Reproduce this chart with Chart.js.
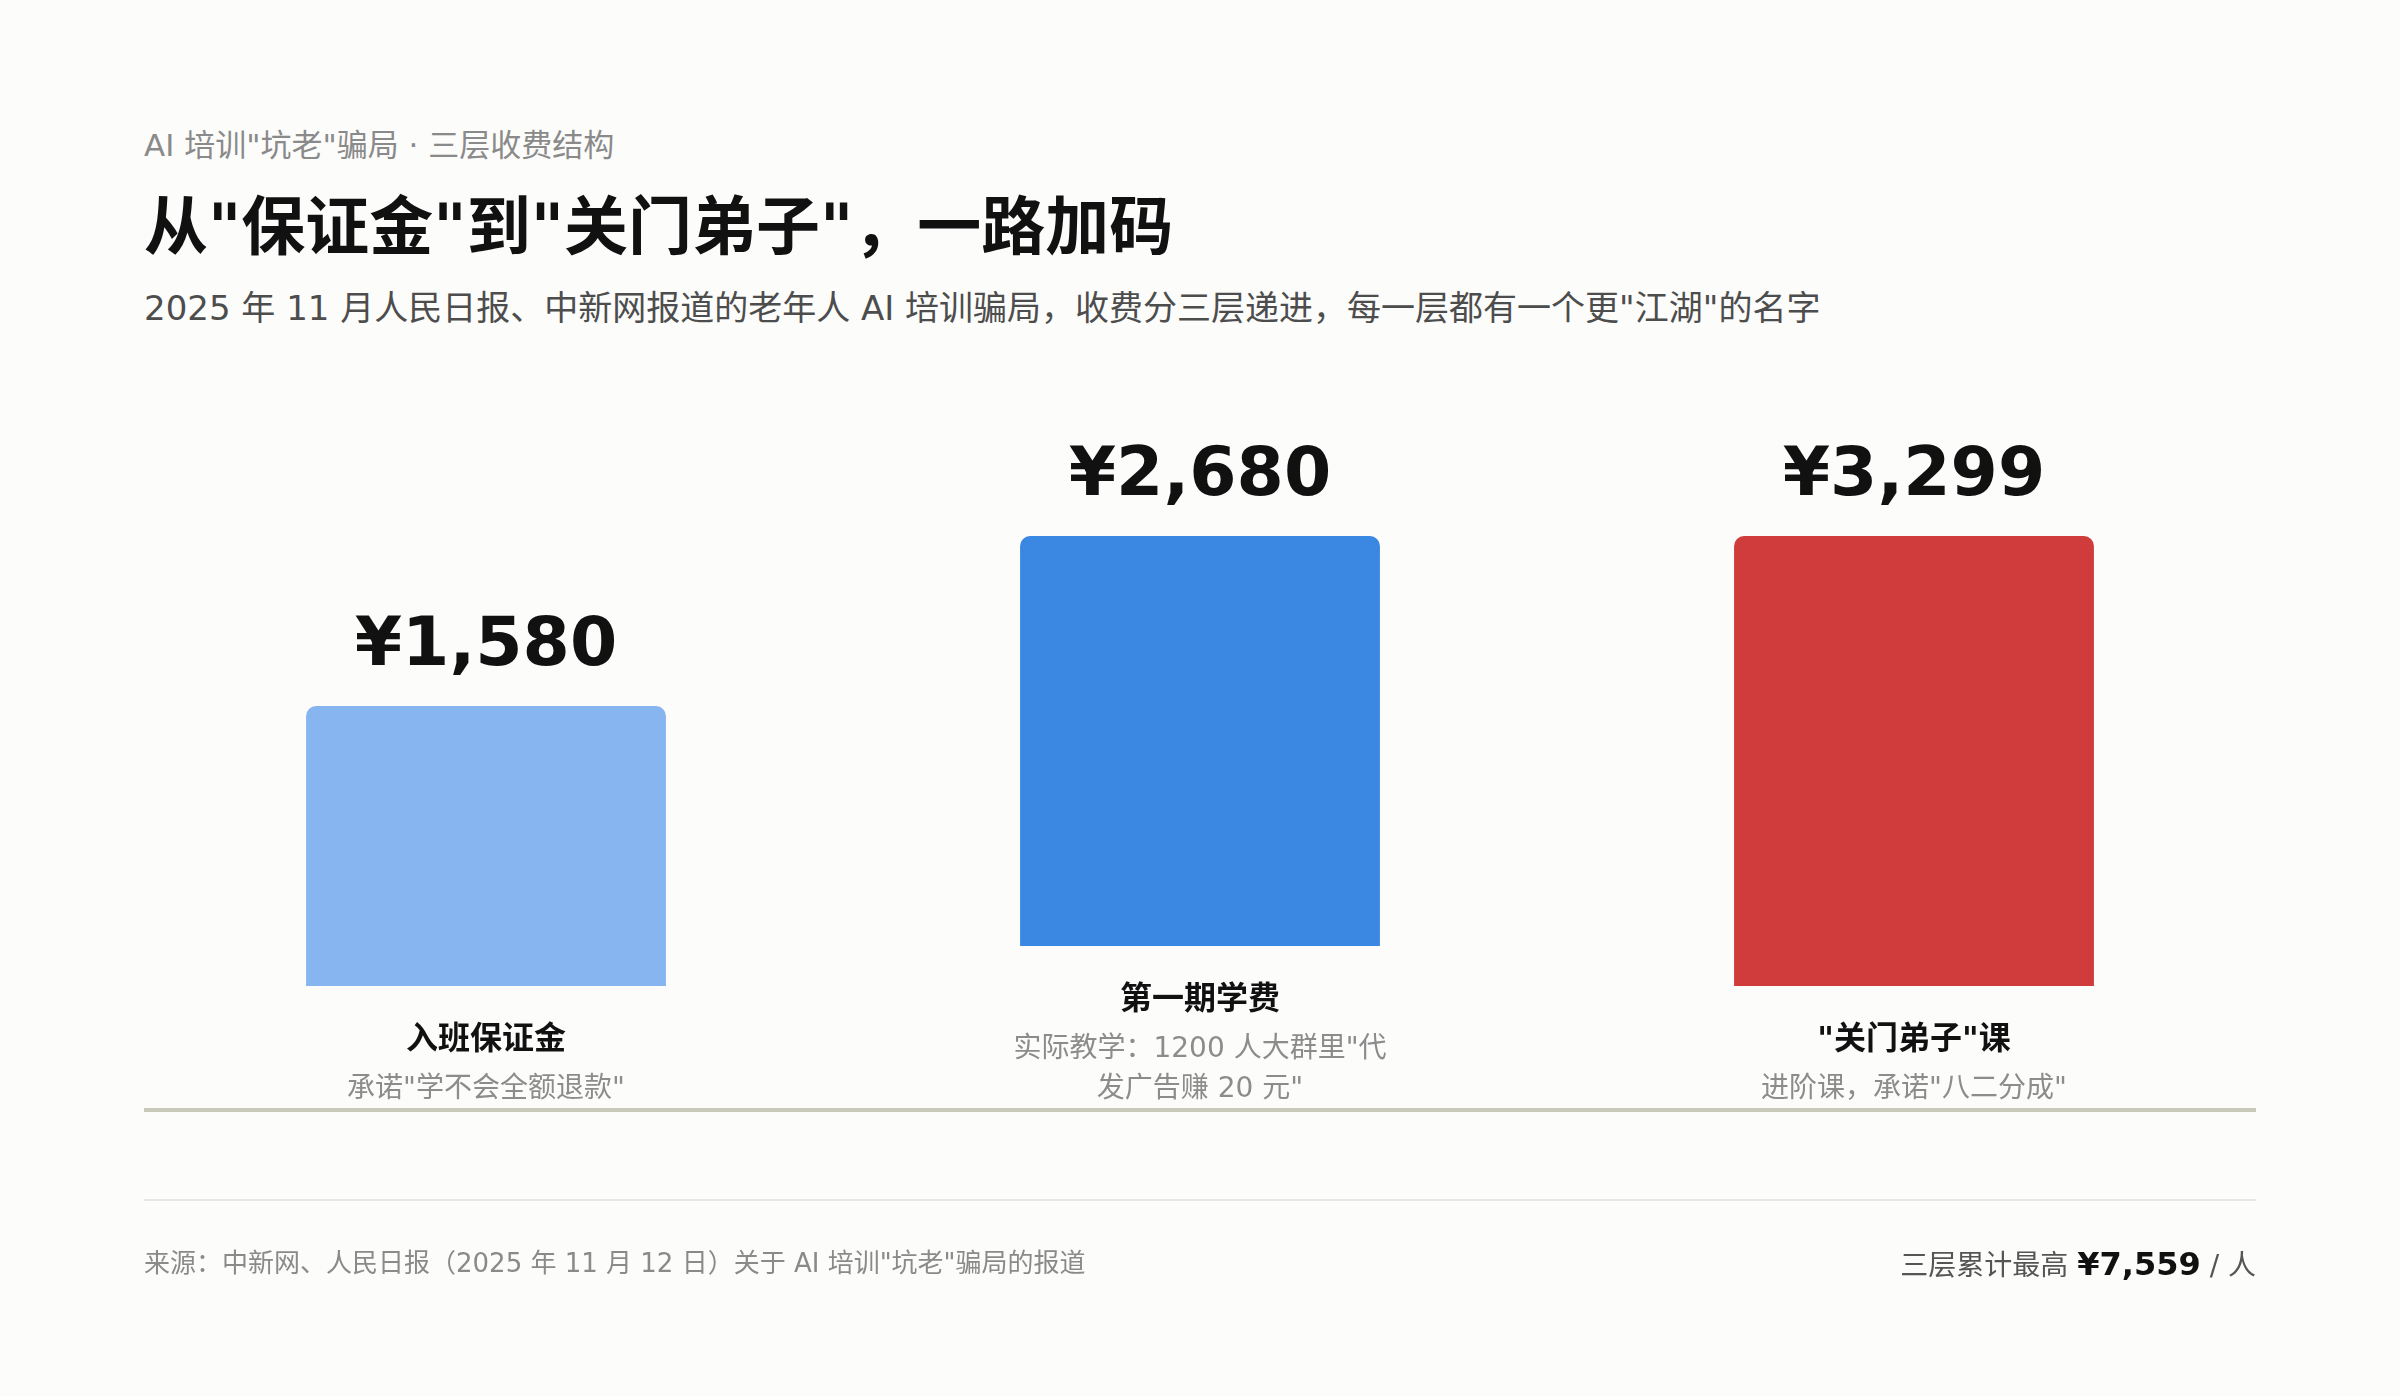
<!DOCTYPE html>
<html>
<head>
<meta charset="utf-8">
<script src="https://cdn.jsdelivr.net/npm/chart.js@4"></script>
<style>
  html, body { margin: 0; padding: 0; background: #fcfcfb; }
  body { width: 2400px; height: 1396px; position: relative; overflow: hidden;
         font-family: "DejaVu Sans", "Noto Sans CJK SC", sans-serif; }
  .txt { position: absolute; left: 144px; line-height: 1; white-space: nowrap; }
  #kicker { top: 130px; font-size: 31px; color: #8a8a8a; }
  #title { top: 195px; font-size: 64px; font-weight: bold; color: #111; }
  #desc { top: 291px; font-size: 34px; color: #4d4d4d; }
  #rule { position: absolute; left: 144px; width: 2112px; top: 1199px; height: 2px; background: #e6e6e2; }
  #source { top: 1250px; font-size: 26px; color: #8a8a8a; }
  #total { top: 1248px; left: auto; right: 144px; font-size: 28px; color: #555; }
  #total b { font-size: 32px; color: #111; }
  #wrap { position: absolute; left: 0; top: 0; width: 2400px; height: 1396px; }
</style>
</head>
<body>
<div class="txt" id="kicker">AI 培训"坑老"骗局 · 三层收费结构</div>
<div class="txt" id="title">从"保证金"到"关门弟子"，一路加码</div>
<div class="txt" id="desc">2025 年 11 月人民日报、中新网报道的老年人 AI 培训骗局，收费分三层递进，每一层都有一个更"江湖"的名字</div>
<div id="wrap"><canvas id="chart"></canvas></div>
<div id="rule"></div>
<div class="txt" id="source">来源：中新网、人民日报（2025 年 11 月 12 日）关于 AI 培训"坑老"骗局的报道</div>
<div class="txt" id="total">三层累计最高 <b>¥7,559</b> / 人</div>

<script>
const tiers = ["入班保证金", "第一期学费", "\"关门弟子\"课"];
const fees = [1580, 2680, 3299];
const notes = [
  ["承诺\"学不会全额退款\""],
  ["实际教学：1200 人大群里\"代", "发广告赚 20 元\""],
  ["进阶课，承诺\"八二分成\""]
];
const colors = ["#86b5f0", "#3a88e2", "#d03c3c"];

// columns with a one-line note vs. the column whose note wraps (its bar sits higher)
const oneLine = [fees[0], null, fees[2]];
const twoLine = [null, fees[1], null];

// value axes do not start at zero in the original
const Y_MIN = -1250, Y_MAX = 3299;
const Y2_MIN = -262, Y2_MAX = 2680;

const FONT = '"DejaVu Sans", "Noto Sans CJK SC", sans-serif';

const labelPlugin = {
  id: 'tierLabels',
  afterDatasetsDraw(chart) {
    const ctx = chart.ctx;
    const area = chart.chartArea;
    const lineY = area.bottom + 124;

    ctx.save();
    // baseline under the captions
    ctx.fillStyle = '#c8c8bb';
    ctx.fillRect(144, lineY - 2, 2112, 4);

    ctx.textAlign = 'center';
    chart.data.datasets.forEach((ds, d) => {
      const meta = chart.getDatasetMeta(d);
      ds.data.forEach((v, i) => {
        if (v == null) return;
        const bar = meta.data[i];

        // price above bar
        ctx.fillStyle = '#111';
        ctx.font = 'bold 68px ' + FONT;
        ctx.textBaseline = 'alphabetic';
        ctx.fillText('¥' + v.toLocaleString('en-US'), bar.x, bar.y - 41);

        // tier name and note, stacked upward from the baseline
        ctx.textBaseline = 'middle';
        const lines = notes[i];
        const y = lineY - 20 - (lines.length - 1) * 40;
        ctx.font = 'bold 32px ' + FONT;
        ctx.fillStyle = '#111';
        ctx.fillText(tiers[i], bar.x, y - 49);
        ctx.font = '28px ' + FONT;
        ctx.fillStyle = '#8c8c8c';
        lines.forEach((ln, j) => ctx.fillText(ln, bar.x, y + j * 40));
      });
    });
    ctx.restore();
  }
};

const ctx = document.getElementById('chart').getContext('2d');
new Chart(ctx, {
  type: 'bar',
  data: {
    labels: tiers,
    datasets: [
      { data: oneLine, yAxisID: 'y', base: Y_MIN, backgroundColor: colors },
      { data: twoLine, yAxisID: 'y2', backgroundColor: colors }
    ]
  },
  options: {
    responsive: true,
    maintainAspectRatio: false,
    animation: false,
    datasets: {
      bar: {
        grouped: false,
        borderRadius: 10,
        borderSkipped: 'start',
        categoryPercentage: 1,
        barPercentage: 0.504
      }
    },
    layout: { padding: { left: 129, right: 129, top: 536, bottom: 410 } },
    plugins: { legend: { display: false }, tooltip: { enabled: false } },
    scales: {
      x: { display: false },
      y: { display: false, min: Y_MIN, max: Y_MAX },
      y2: { display: false, min: Y2_MIN, max: Y2_MAX }
    }
  },
  plugins: [labelPlugin]
});
</script>
</body>
</html>
